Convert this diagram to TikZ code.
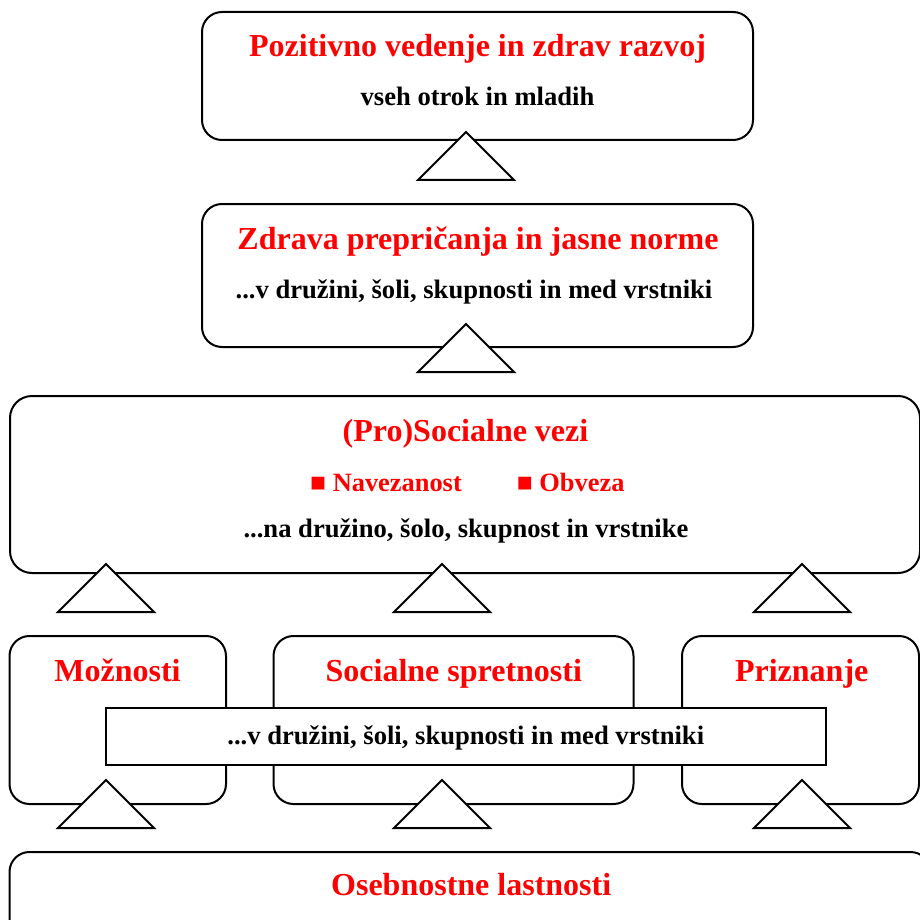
\documentclass[tikz,border=0pt]{standalone}
\usepackage{fontspec}
\setmainfont{Liberation Serif}
\begin{document}
\begin{tikzpicture}[x=1pt,y=-1pt,
  box/.style={draw,line width=2pt,rounded corners=20pt,fill=white,inner sep=0pt,outer sep=0pt},
  plainbox/.style={draw,line width=2pt,fill=white,inner sep=0pt,outer sep=0pt},
  tri/.style={draw,line width=2pt,fill=white,line join=miter},
  redt/.style={text=red,font=\fontsize{32}{36}\selectfont\bfseries,anchor=base,inner sep=0pt},
  bult/.style={text=red,font=\fontsize{26.4}{30}\selectfont\bfseries,anchor=base west,inner sep=0pt},
  blkt/.style={text=black,font=\fontsize{26.6}{30}\selectfont\bfseries,anchor=base,inner sep=0pt}]
\useasboundingbox (0,0) rectangle (919,920);
\fill[white] (0,0) rectangle (919,920);
% top box
\node[box,minimum width=551pt,minimum height=128pt] (b1) at (477.5,76) {};
\node[redt] (t1) at (477.5,57) {Pozitivno vedenje in zdrav razvoj};
\node[blkt] (s1) at (477.5,106) {vseh otrok in mladih};
% second box
\node[box,minimum width=551pt,minimum height=143pt] (b2) at (477.5,275.5) {};
\node[redt] (t2) at (478,249) {Zdrava prepričanja in jasne norme};
\node[blkt] (s2) at (474,298) {...v družini, šoli, skupnosti in med vrstniki};
% third box
\node[box,rounded corners=22pt,minimum width=910pt,minimum height=177pt] (b3) at (465,484.5) {};
\node[redt] (t3) at (465.5,441.7) {(Pro)Socialne vezi};
\node[bult] (n1) at (310,491.7) {■ Navezanost};
\node[bult] (n2) at (516.7,491.7) {■ Obveza};
\node[blkt] (s3) at (466,537.7) {...na družino, šolo, skupnost in vrstnike};
% row boxes
\node[box,minimum width=216.5pt,minimum height=168pt] (r1) at (117.75,720) {};
\node[box,minimum width=360pt,minimum height=168pt] (r2) at (453.5,720) {};
\node[box,minimum width=237pt,minimum height=168pt] (r3) at (800.5,720) {};
\node[redt] (rt1) at (117.5,681.7) {Možnosti};
\node[redt] (rt2) at (453.8,681.7) {Socialne spretnosti};
\node[redt] (rt3) at (801.7,681.7) {Priznanje};
\node[plainbox,minimum width=720pt,minimum height=57pt] (ov) at (466,736.5) {};
\node[blkt] (ovt) at (465.8,744.3) {...v družini, šoli, skupnosti in med vrstniki};
% bottom box
\node[box,minimum width=921pt,minimum height=116pt] (b5) at (470,910) {};
\node[redt] (t5) at (471.2,895) {Osebnostne lastnosti};
% triangles (connectors)
\coordinate (a1) at (466,132);
\coordinate (a2) at (466,324);
\coordinate (a3) at (106,564);
\coordinate (a4) at (442,564);
\coordinate (a5) at (802,564);
\coordinate (a6) at (106,780);
\coordinate (a7) at (442,780);
\coordinate (a8) at (802,780);
\foreach \a in {a1,a2,a3,a4,a5,a6,a7,a8}
  \draw[tri] (\a) -- ++(48,48) -- ++(-96,0) -- cycle;
\end{tikzpicture}
\end{document}
